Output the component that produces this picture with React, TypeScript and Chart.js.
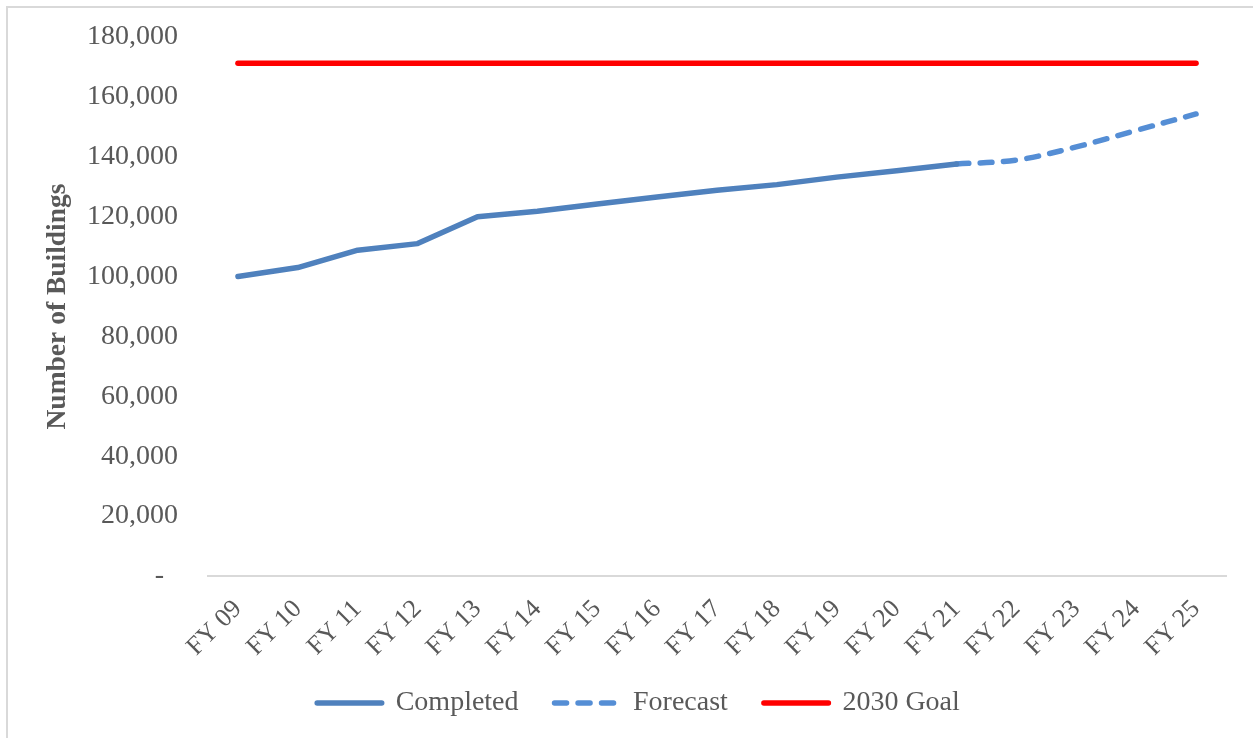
import React, { useEffect, useRef } from 'react';
import { Chart, registerables } from 'chart.js';

Chart.register(...registerables);

const categories = ['FY 09', 'FY 10', 'FY 11', 'FY 12', 'FY 13', 'FY 14', 'FY 15', 'FY 16', 'FY 17', 'FY 18', 'FY 19', 'FY 20', 'FY 21', 'FY 22', 'FY 23', 'FY 24', 'FY 25'];
const completed = [100000, 103000, 108800, 111000, 120000, 121800, 124200, 126600, 128800, 130700, 133200, 135300, 137600, null, null, null, null];
const forecast = [null, null, null, null, null, null, null, null, null, null, null, null, 137600, 138900, 143300, 148800, 154300];
const goal = [171200, 171200, 171200, 171200, 171200, 171200, 171200, 171200, 171200, 171200, 171200, 171200, 171200, 171200, 171200, 171200, 171200];
const seriesNames = ['Completed', 'Forecast', '2030 Goal'];
const yMin = 0;
const yMax = 180000;
const yStep = 20000;
const yTitle = 'Number of Buildings';

const FONT = "'Liberation Serif', serif";
const TEXT = '#595959';

// keep rotated x labels visible below the (fixed-height) x axis box, and nudge the legend
const layoutTweaks = {
  id: 'layoutTweaks',
  afterLayout(chart: any) {
    const x = chart.scales.x;
    if (x) x.bottom = x.top + 120;
    const lg = chart.legend;
    if (lg) {
      lg.left += 7;
      lg.right += 7;
    }
  },
};

export default function App() {
  const ref = useRef<HTMLCanvasElement | null>(null);
  useEffect(() => {
    if (!ref.current) return;
    const chart = new Chart(ref.current, {
      type: 'line',
      data: {
        labels: categories,
        datasets: [
          {
            label: seriesNames[0],
            data: completed,
            borderColor: '#4F81BD',
            backgroundColor: '#4F81BD',
            borderWidth: 5.5,
            pointRadius: 0,
            borderCapStyle: 'round',
            borderJoinStyle: 'round',
            tension: 0,
          },
          {
            label: seriesNames[1],
            data: forecast,
            borderColor: '#558ED5',
            backgroundColor: '#558ED5',
            borderWidth: 5.5,
            borderDash: [12, 11.5],
            pointRadius: 0,
            borderCapStyle: 'round',
            borderJoinStyle: 'round',
            tension: 0.35,
          },
          {
            label: seriesNames[2],
            data: goal,
            borderColor: '#FF0000',
            backgroundColor: '#FF0000',
            borderWidth: 5.5,
            pointRadius: 0,
            borderCapStyle: 'round',
            tension: 0,
          },
        ],
      },
      plugins: [layoutTweaks],
      options: {
        animation: false,
        responsive: true,
        maintainAspectRatio: false,
        layout: { padding: { left: 29, right: 27, top: 29, bottom: 11 } },
        plugins: {
          tooltip: { enabled: false },
          legend: {
            position: 'bottom',
            labels: {
              usePointStyle: true,
              pointStyle: 'line',
              pointStyleWidth: 64.5,
              boxHeight: 28,
              padding: 36,
              color: TEXT,
              font: { family: FONT, size: 28 },
              generateLabels: (c: any) => {
                const items = Chart.defaults.plugins.legend.labels.generateLabels(c);
                items.forEach((it: any) => {
                  const ds: any = c.data.datasets[it.datasetIndex];
                  it.lineDash = ds.borderDash || [];
                  it.lineCap = 'round';
                  it.strokeStyle = ds.borderColor;
                  it.fillStyle = ds.borderColor;
                  it.lineWidth = ds.borderWidth;
                  it.pointStyle = 'line';
                });
                return items;
              },
            },
          },
        },
        scales: {
          x: {
            offset: true,
            grid: { display: false, drawTicks: false },
            border: { display: true, color: '#D9D9D9', width: 2 },
            ticks: {
              autoSkip: false,
              minRotation: 45,
              maxRotation: 45,
              padding: 18,
              color: TEXT,
              font: { family: FONT, size: 26 },
            },
            afterFit: (s: any) => { s.height = 77; },
          },
          y: {
            min: yMin,
            max: yMax,
            grid: { display: false, drawTicks: false },
            border: { display: false },
            ticks: {
              stepSize: yStep,
              padding: 30,
              color: TEXT,
              font: { family: FONT, size: 28 },
              callback: (v: any) => (Number(v) === 0 ? '-  ' : Number(v).toLocaleString('en-US')),
            },
            title: {
              display: true,
              text: yTitle,
              color: TEXT,
              font: { family: FONT, size: 27.5, weight: 'bold' },
              padding: { top: 4, bottom: 4 },
            },
            afterFit: (s: any) => {
              s.width = 171;
              s.paddingTop = 0;
              s.paddingBottom = 0;
            },
          },
        },
      },
    });
    return () => chart.destroy();
  }, []);
  return (
    <div
      style={{
        position: 'absolute',
        left: 6,
        top: 6,
        width: 1247,
        height: 732,
        boxSizing: 'border-box',
        borderLeft: '2px solid #D9D9D9',
        borderTop: '2px solid #D9D9D9',
        background: '#fff',
        overflow: 'hidden',
      }}
    >
      <canvas ref={ref} />
    </div>
  );
}
